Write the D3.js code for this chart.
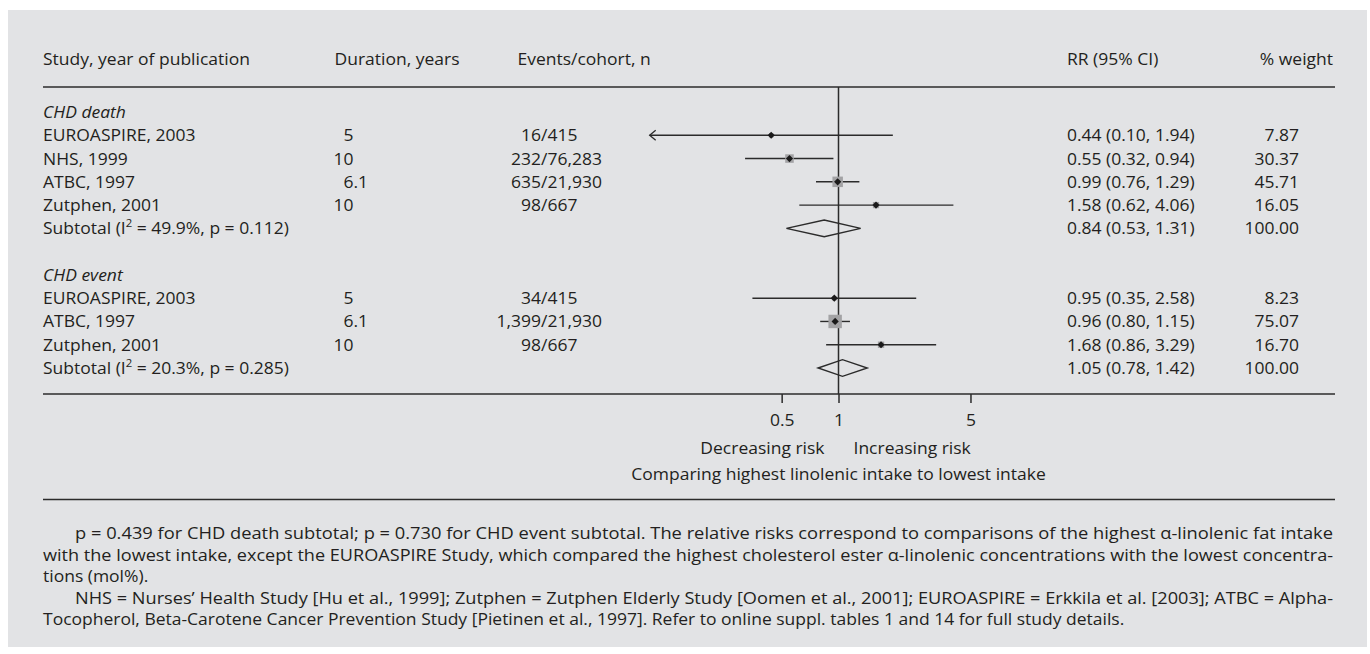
<!DOCTYPE html>
<html><head><meta charset="utf-8">
<script src="https://cdn.jsdelivr.net/npm/d3@7"></script>
<style>
body{margin:0;background:#fff;}
svg{display:block;}
text{font-family:"Open Sans","Noto Sans",sans-serif;fill:#231f20;}
</style>
</head><body>
<svg id="chart" width="1370" height="654"></svg>
<script>
// ---------- data ----------
const headers = ["Study, year of publication", "Duration, years", "Events/cohort, n", "RR (95% CI)", "% weight"];
const groupNames = ["CHD death", "CHD event"];
const studyGroup = [0, 0, 0, 0, 1, 1, 1];
const studyNames = ["EUROASPIRE, 2003", "NHS, 1999", "ATBC, 1997", "Zutphen, 2001", "EUROASPIRE, 2003", "ATBC, 1997", "Zutphen, 2001"];
const durations = ["5", "10", "6.1", "10", "5", "6.1", "10"];
const events = ["16/415", "232/76,283", "635/21,930", "98/667", "34/415", "1,399/21,930", "98/667"];
const rr = [0.44, 0.55, 0.99, 1.58, 0.95, 0.96, 1.68];
const ciLow = [0.10, 0.32, 0.76, 0.62, 0.35, 0.80, 0.86];
const ciHigh = [1.94, 0.94, 1.29, 4.06, 2.58, 1.15, 3.29];
const weights = [7.87, 30.37, 45.71, 16.05, 8.23, 75.07, 16.70];
const subI2 = ["49.9%", "20.3%"];
const subP = ["0.112", "0.285"];
const subRR = [0.84, 1.05];
const subLow = [0.53, 0.78];
const subHigh = [1.31, 1.42];
const subWeight = [100, 100];
const tickValues = [0.5, 1, 5];
const tickLabels = ["0.5", "1", "5"];
const sideLabels = ["Decreasing risk", "Increasing risk"];
const axisTitle = "Comparing highest linolenic intake to lowest intake";
const footLines = [
  "p = 0.439 for CHD death subtotal; p = 0.730 for CHD event subtotal. The relative risks correspond to comparisons of the highest \u03b1-linolenic fat intake",
  "with the lowest intake, except the EUROASPIRE Study, which compared the highest cholesterol ester \u03b1-linolenic concentrations with the lowest concentra-",
  "tions (mol%).",
  "NHS = Nurses\u2019 Health Study [Hu et al., 1999]; Zutphen = Zutphen Elderly Study [Oomen et al., 2001]; EUROASPIRE = Erkkila et al. [2003]; ATBC = Alpha-",
  "Tocopherol, Beta-Carotene Cancer Prevention Study [Pietinen et al., 1997]. Refer to online suppl. tables 1 and 14 for full study details."
];
const footIndent = [true, false, false, true, false];
const footJustify = [true, true, false, true, false];

// ---------- layout ----------
const svg = d3.select("#chart");
const FS = 16.5;
const LEFT = 43, RIGHT = 1335;
const ink = "#2b2b2b";

svg.append("rect").attr("x", 8).attr("y", 10).attr("width", 1359).attr("height", 637).attr("fill", "#e2e3e5");

// condense factor to mimic the narrow original typeface
const probe = svg.append("text").attr("font-size", FS).text("Duration, years");
const CF = 125 / probe.node().getComputedTextLength();
probe.remove();
function condense(sel) {
  sel.each(function () {
    const w = this.getComputedTextLength();
    d3.select(this).attr("textLength", w * CF).attr("lengthAdjust", "spacingAndGlyphs");
  });
  return sel;
}
function txt(x, y, s, anchor, opts) {
  const t = svg.append("text").attr("x", x).attr("y", y).attr("font-size", FS)
    .attr("text-anchor", anchor || "start").text(s);
  if (opts && opts.italic) t.attr("font-style", "italic");
  condense(t);
  return t;
}

// row scale: 12 rows (group header, 4 studies, subtotal, blank, header, 3 studies, subtotal)
const y = d3.scaleLinear().domain([0, 11]).range([112, 368]);
const BL = 6; // baseline offset from row centre

// rows assignment
const studyRow = [];
const groupRow = [0, 7];
const subRow = [5, 11];
{ let r = {0: 1, 1: 8}; studyGroup.forEach((g, i) => { studyRow.push(r[g]++); }); }

// x scale (log)
const x = d3.scaleLog().domain([0.1, 5]).range([838.5 - 82 * Math.log(10), 838.5 + 82 * Math.log(5)]);
const box = d3.scaleSqrt().domain([0, 100]).range([0, 15.5]);

// header
const hy = 65;
txt(LEFT, hy, headers[0]);
txt(334.5, hy, headers[1]);
txt(517.5, hy, headers[2]);
txt(1067, hy, headers[3]);
txt(1333, hy, headers[4], "end");

// rules
const rule = (yy) => svg.append("line").attr("x1", LEFT).attr("x2", RIGHT).attr("y1", yy).attr("y2", yy)
  .attr("stroke", ink).attr("stroke-width", 1.5);
rule(87);
rule(394);
rule(499.5);

// null line
svg.append("line").attr("x1", x(1)).attr("x2", x(1)).attr("y1", 87).attr("y2", 394)
  .attr("stroke", ink).attr("stroke-width", 1.5);

// axis ticks + labels
const axisG = svg.append("g").attr("transform", "translate(0,394)");
axisG.call(d3.axisBottom(x).tickValues(tickValues).tickFormat((d, i) => tickLabels[i]).tickSize(9).tickPadding(10));
axisG.select(".domain").remove();
axisG.selectAll(".tick line").attr("stroke", ink).attr("stroke-width", 1.5);
axisG.selectAll(".tick text").attr("font-size", FS).attr("font-family", "'Open Sans',sans-serif")
  .attr("fill", "#231f20").attr("dy", null).attr("y", 32);
condense(axisG.selectAll(".tick text"));

txt(x(1) - 14, 454, sideLabels[0], "end");
txt(x(1) + 15, 454, sideLabels[1], "start");
txt(x(1), 480, axisTitle, "middle");

// group headers
groupNames.forEach((g, i) => txt(LEFT, y(groupRow[i]) + BL, g, "start", {italic: true}));

// studies
studyNames.forEach((s, i) => {
  const yy = y(studyRow[i]);
  txt(LEFT, yy + BL, s);
  // duration aligned on decimal point
  const parts = durations[i].split(".");
  txt(353.5, yy + BL, parts[0], "end");
  if (parts[1]) txt(353.5, yy + BL, "." + parts[1], "start");
  // events aligned on slash
  const ev = events[i].split("/");
  txt(541, yy + BL, ev[0], "end");
  txt(541, yy + BL, "/" + ev[1], "start");
  txt(1067, yy + BL, `${rr[i].toFixed(2)} (${ciLow[i].toFixed(2)}, ${ciHigh[i].toFixed(2)})`);
  txt(1299, yy + BL, weights[i].toFixed(2), "end");

  // CI line
  const [dmin, dmax] = x.domain();
  const clipped = ciLow[i] <= dmin;
  const x0 = x(Math.max(ciLow[i], dmin)), x1 = x(Math.min(ciHigh[i], dmax));
  svg.append("line").attr("x1", x0).attr("x2", x1).attr("y1", yy).attr("y2", yy)
    .attr("stroke", ink).attr("stroke-width", 1.4);
  if (clipped) {
    svg.append("path").attr("d", `M${x0 + 6},${yy - 5}L${x0},${yy}L${x0 + 6},${yy + 5}`)
      .attr("fill", "none").attr("stroke", ink).attr("stroke-width", 1.3);
  }
  const b = box(weights[i]);
  svg.append("rect").attr("x", x(rr[i]) - b / 2).attr("y", yy - b / 2).attr("width", b).attr("height", b)
    .attr("fill", "#a3a3a5");
  const d = 3.6;
  const px = x(rr[i]);
  svg.append("path").attr("d", `M${px - d},${yy}L${px},${yy - d}L${px + d},${yy}L${px},${yy + d}Z`)
    .attr("fill", "#1a1a1a");
});

// subtotals
subRR.forEach((v, i) => {
  const yy = y(subRow[i]);
  const t = svg.append("text").attr("x", LEFT).attr("y", yy + BL).attr("font-size", FS);
  t.append("tspan").text("Subtotal (I");
  t.append("tspan").attr("font-size", FS * 0.65).attr("dy", -7).text("2");
  t.append("tspan").attr("dy", 7).text(` = ${subI2[i]}, p = ${subP[i]})`);
  condense(t);
  txt(1067, yy + BL, `${v.toFixed(2)} (${subLow[i].toFixed(2)}, ${subHigh[i].toFixed(2)})`);
  txt(1299, yy + BL, subWeight[i].toFixed(2), "end");
  const h = 8.3;
  svg.append("path")
    .attr("d", `M${x(subLow[i])},${yy}L${x(v)},${yy - h}L${x(subHigh[i])},${yy}L${x(v)},${yy + h}Z`)
    .attr("fill", "none").attr("stroke", ink).attr("stroke-width", 1.4);
});

// footnote
footLines.forEach((s, i) => {
  const fx = footIndent[i] ? 75 : LEFT;
  const fy = 539 + i * 21.5;
  const t = svg.append("text").attr("x", fx).attr("y", fy).attr("font-size", FS).text(s);
  if (footJustify[i]) {
    t.attr("textLength", 1333 - fx).attr("lengthAdjust", "spacingAndGlyphs");
  } else {
    condense(t);
  }
});
</script>
</body></html>
